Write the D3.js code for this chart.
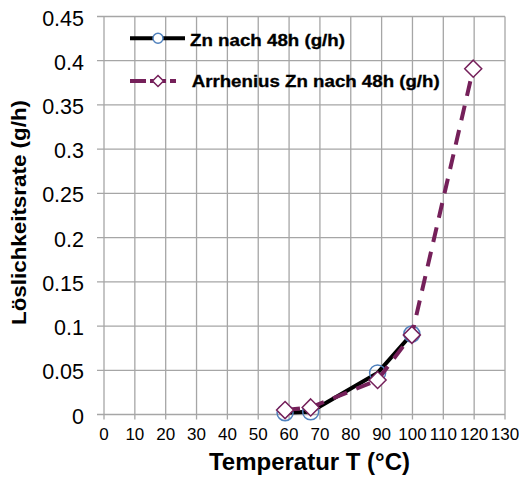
<!DOCTYPE html>
<html><head><meta charset="utf-8">
<script src="https://cdn.jsdelivr.net/npm/d3@7"></script>
<style>body{margin:0;background:#fff}svg{display:block}text{font-family:"Liberation Sans",Arial,sans-serif}</style>
</head><body>
<script>
const znT = [58.7, 67.0, 88.7, 99.8];
const znRate = [0.002, 0.003, 0.047, 0.091];
const arrT = [58.7, 67.0, 88.7, 99.8, 119.7];
const arrRate = [0.005, 0.008, 0.039, 0.09, 0.391];
const xTicks = d3.range(0, 131, 10);
const yTicks = [0, 0.05, 0.1, 0.15, 0.2, 0.25, 0.3, 0.35, 0.4, 0.45];
const seriesNames = ["Zn nach 48h (g/h)", "Arrhenius Zn nach 48h (g/h)"];

const W = 519, H = 477;
const L = 104, R = 505, T = 16.5, B = 414.5;
const svg = d3.select("body").append("svg").attr("width", W).attr("height", H);
const x = d3.scaleLinear().domain([0, 130]).range([L, R]);
const y = d3.scaleLinear().domain([0, 0.45]).range([B, T]);
const grid = "#a6a6a6";

// grid
svg.append("g").selectAll("line").data(xTicks).join("line")
  .attr("x1", d => x(d)).attr("x2", d => x(d)).attr("y1", T).attr("y2", B + 5)
  .attr("stroke", grid).attr("stroke-width", 1.3);
svg.append("g").selectAll("line").data(yTicks).join("line")
  .attr("x1", L - 7).attr("x2", R).attr("y1", d => y(d)).attr("y2", d => y(d))
  .attr("stroke", grid).attr("stroke-width", 1.3);

// tick labels
svg.append("g").selectAll("text").data(yTicks).join("text")
  .attr("x", 84).attr("y", d => y(d) + 9).attr("text-anchor", "end")
  .attr("font-size", 21.5).text(d => String(+d.toFixed(2)));
svg.append("g").selectAll("text").data(xTicks).join("text")
  .attr("x", d => x(d)).attr("y", 440).attr("text-anchor", "middle")
  .attr("font-size", 17).text(d => d);

// axis titles
svg.append("text").attr("x", 209).attr("y", 470)
  .attr("font-size", 23).attr("font-weight", "bold")
  .attr("textLength", 201).attr("lengthAdjust", "spacingAndGlyphs")
  .text("Temperatur T (°C)");
svg.append("text").attr("transform", `translate(25.5,212.5) rotate(-90)`)
  .attr("text-anchor", "middle").attr("font-size", 21).attr("font-weight", "bold")
  .attr("textLength", 225).attr("lengthAdjust", "spacingAndGlyphs")
  .text("Löslichkeitsrate (g/h)");

const purple = "#75205a", blue = "#4f81bd";
const line = d3.line().x(d => x(d[0])).y(d => y(d[1]));

const znData = znT.map((t, i) => [t, znRate[i]]);
const arrData = arrT.map((t, i) => [t, arrRate[i]]);

svg.append("path").datum(znData).attr("d", line).attr("fill", "none")
  .attr("stroke", "#000").attr("stroke-width", 4).attr("stroke-linejoin", "round");
svg.append("g").selectAll("circle").data(znData).join("circle")
  .attr("cx", d => x(d[0])).attr("cy", d => y(d[1])).attr("r", 8)
  .attr("fill", "none").attr("stroke", blue).attr("stroke-width", 1.5);

svg.append("path").datum(arrData).attr("d", line).attr("fill", "none")
  .attr("stroke", purple).attr("stroke-width", 4).attr("stroke-dasharray", "15,10");
const diamond = (cx, cy, s) => `M${cx},${cy - s}L${cx + s},${cy}L${cx},${cy + s}L${cx - s},${cy}Z`;
svg.append("g").selectAll("path").data(arrData).join("path")
  .attr("d", d => diamond(x(d[0]), y(d[1]), 8.5))
  .attr("fill", "#fff").attr("stroke", purple).attr("stroke-width", 1.5);

// legend
const lg = svg.append("g");
lg.append("line").attr("x1", 130).attr("x2", 185).attr("y1", 38.3).attr("y2", 38.3)
  .attr("stroke", "#000").attr("stroke-width", 4);
lg.append("circle").attr("cx", 158).attr("cy", 38.3).attr("r", 5)
  .attr("fill", "#fff").attr("stroke", blue).attr("stroke-width", 1.5);
lg.append("text").attr("x", 190).attr("y", 45.5).attr("font-size", 16).attr("font-weight", "bold")
  .attr("stroke", "#000").attr("stroke-width", 0.3)
  .attr("textLength", 155).attr("lengthAdjust", "spacingAndGlyphs").text(seriesNames[0]);
lg.append("line").attr("x1", 130).attr("x2", 176).attr("y1", 81).attr("y2", 81)
  .attr("stroke", purple).attr("stroke-width", 4).attr("stroke-dasharray", "16,4");
lg.append("path").attr("d", diamond(158, 81, 5.5))
  .attr("fill", "#fff").attr("stroke", purple).attr("stroke-width", 1.5);
lg.append("text").attr("x", 191.7).attr("y", 87).attr("font-size", 16).attr("font-weight", "bold")
  .attr("stroke", "#000").attr("stroke-width", 0.3)
  .attr("textLength", 248).attr("lengthAdjust", "spacingAndGlyphs").text(seriesNames[1]);
</script>
</body></html>
